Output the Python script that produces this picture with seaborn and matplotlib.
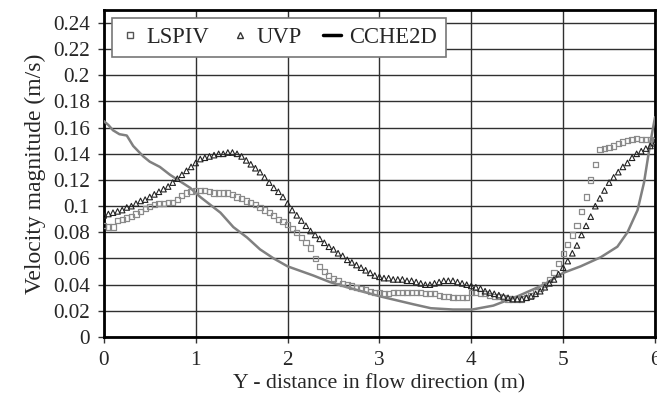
import numpy as np
import pandas as pd
import matplotlib
matplotlib.use("Agg")
import matplotlib.pyplot as plt
from matplotlib.lines import Line2D
import seaborn as sns

# ---- data ----
pos_step = 0.05
meas_x = [round(i * pos_step, 2) for i in range(121)]

uvp = [0.093, 0.094, 0.095, 0.096, 0.097, 0.099, 0.100, 0.102, 0.104, 0.105,
       0.107, 0.109, 0.111, 0.113, 0.115, 0.118, 0.121, 0.124, 0.127, 0.130,
       0.133, 0.136, 0.137, 0.138, 0.139, 0.140, 0.140, 0.141, 0.141, 0.140,
       0.138, 0.135, 0.132, 0.129, 0.126, 0.122, 0.118, 0.114, 0.111, 0.107,
       0.102, 0.097, 0.093, 0.089, 0.085, 0.081, 0.078, 0.075, 0.072, 0.069,
       0.067, 0.064, 0.062, 0.059, 0.057, 0.055, 0.053, 0.051, 0.049, 0.047,
       0.046, 0.045, 0.045, 0.044, 0.044, 0.044, 0.043, 0.043, 0.042, 0.041,
       0.040, 0.040, 0.041, 0.042, 0.043, 0.043, 0.043, 0.042, 0.041, 0.040,
       0.039, 0.038, 0.037, 0.035, 0.034, 0.033, 0.032, 0.031, 0.030, 0.029,
       0.029, 0.029, 0.030, 0.031, 0.033, 0.035, 0.038, 0.041, 0.044, 0.048,
       0.053, 0.058, 0.064, 0.070, 0.078, 0.085, 0.092, 0.100, 0.106, 0.112,
       0.118, 0.122, 0.126, 0.130, 0.133, 0.137, 0.140, 0.142, 0.144, 0.146,
       0.148]

lspiv = [0.085, 0.084, 0.084, 0.089, 0.090, 0.091, 0.092, 0.094, 0.096, 0.098,
         0.100, 0.101, 0.102, 0.102, 0.103, 0.103, 0.105, 0.108, 0.110, 0.111,
         0.112, 0.112, 0.112, 0.111, 0.110, 0.110, 0.110, 0.110, 0.109, 0.107,
         0.106, 0.104, 0.103, 0.101, 0.099, 0.097, 0.095, 0.093, 0.090, 0.088,
         0.086, 0.083, 0.080, 0.076, 0.072, 0.068, 0.060, 0.054, 0.050, 0.047,
         0.045, 0.043, 0.041, 0.040, 0.039, 0.038, 0.037, 0.036, 0.035, 0.034,
         0.034, 0.033, 0.033, 0.034, 0.034, 0.034, 0.034, 0.034, 0.034, 0.034,
         0.033, 0.033, 0.033, 0.032, 0.031, 0.031, 0.030, 0.030, 0.030, 0.030,
         0.034, 0.034, 0.033, 0.033, 0.032, 0.031, 0.031, 0.030, 0.029, 0.029,
         0.029, 0.029, 0.030, 0.032, 0.035, 0.037, 0.040, 0.044, 0.049, 0.056,
         0.064, 0.071, 0.078, 0.085, 0.096, 0.107, 0.120, 0.132, 0.143, 0.144,
         0.145, 0.146, 0.148, 0.149, 0.150, 0.151, 0.152, 0.151, 0.151, 0.151,
         0.150]

cche_x = [0, 0.05, 0.1, 0.17, 0.25, 0.32, 0.43, 0.5, 0.61, 0.72, 0.83, 0.94,
          1.05, 1.16, 1.27, 1.41, 1.56, 1.70, 1.85, 2.0, 2.28, 2.46, 2.65,
          3.01, 3.37, 3.56, 3.8, 4.01, 4.24, 4.5, 4.79, 5.0, 5.19, 5.41, 5.59,
          5.70, 5.81, 5.88, 5.95, 6.0]
cche_y = [0.165, 0.162, 0.158, 0.155, 0.154, 0.146, 0.138, 0.134, 0.130, 0.124,
          0.119, 0.114, 0.107, 0.101, 0.095, 0.084, 0.076, 0.067, 0.060, 0.054,
          0.047, 0.042, 0.038, 0.031, 0.025, 0.022, 0.021, 0.021, 0.024, 0.031,
          0.040, 0.049, 0.054, 0.061, 0.069, 0.080, 0.097, 0.118, 0.149, 0.168]

series_names = ["LSPIV", "UVP", "CCHE2D"]
x_ticks = [0, 1, 2, 3, 4, 5, 6]
y_ticks = [0, 0.02, 0.04, 0.06, 0.08, 0.1, 0.12, 0.14, 0.16, 0.18, 0.2, 0.22, 0.24]
y_tick_labels = ["0", "0.02", "0.04", "0.06", "0.08", "0.1", "0.12", "0.14",
                 "0.16", "0.18", "0.2", "0.22", "0.24"]

# ---- plotting ----
sns.set_style("ticks")
plt.rcParams["font.family"] = ["Liberation Serif", "DejaVu Serif"]

fig = plt.figure(figsize=(6.57, 3.96), dpi=100)
ax = fig.add_axes([0.158, 0.149, 0.839, 0.826])

df_l = pd.DataFrame({"x": meas_x, "v": lspiv})
df_u = pd.DataFrame({"x": meas_x, "v": uvp})
df_c = pd.DataFrame({"x": cche_x, "v": cche_y})

sns.lineplot(data=df_c, x="x", y="v", ax=ax, color="#808080", linewidth=1.8,
             zorder=3, legend=False)
sns.scatterplot(data=df_l, x="x", y="v", ax=ax, marker="s", s=14,
                facecolor="none", edgecolor="#8a8a8a", linewidth=0.9,
                zorder=4, legend=False)
sns.scatterplot(data=df_u, x="x", y="v", ax=ax, marker="^", s=16,
                facecolor="none", edgecolor="#222222", linewidth=0.8,
                zorder=5, legend=False)

ax.set_xlim(0, 6)
ax.set_ylim(0, 0.25)
ax.set_xticks(x_ticks)
ax.set_yticks(y_ticks)
ax.set_yticklabels(y_tick_labels)
ax.tick_params(axis="both", labelsize=15.3, direction="out", length=4.5,
               width=1, color="#333333", pad=5.5)
ax.grid(True, color="#303030", linewidth=1.0)
ax.set_axisbelow(True)
for s in ax.spines.values():
    s.set_linewidth(2)
    s.set_color("black")

ax.set_xlabel("Y - distance in flow direction (m)", fontsize=15.7, labelpad=3)
ax.set_ylabel("Velocity magnitude (m/s)", fontsize=17, labelpad=5)

handles = [
    Line2D([], [], linestyle="none", marker="s", markersize=4,
           markerfacecolor="none", markeredgecolor="#555555", markeredgewidth=1),
    Line2D([], [], linestyle="none", marker="^", markersize=4.5,
           markerfacecolor="none", markeredgecolor="#333333", markeredgewidth=1),
    Line2D([], [], color="black", linewidth=2.5),
]
leg = ax.legend(handles, series_names, ncol=3, loc="upper left",
                bbox_to_anchor=(0.0145, 0.0, 0.606, 0.976), mode="expand",
                borderaxespad=0,
                fontsize=16.3, frameon=True, fancybox=False,
                handlelength=0.8, handletextpad=0.35, columnspacing=0.9,
                borderpad=0.4)
leg.get_frame().set_edgecolor("#777777")
leg.get_frame().set_linewidth(1.2)
leg.get_frame().set_facecolor("white")
leg.get_frame().set_alpha(1)

fig.savefig("out.png", dpi=100)
